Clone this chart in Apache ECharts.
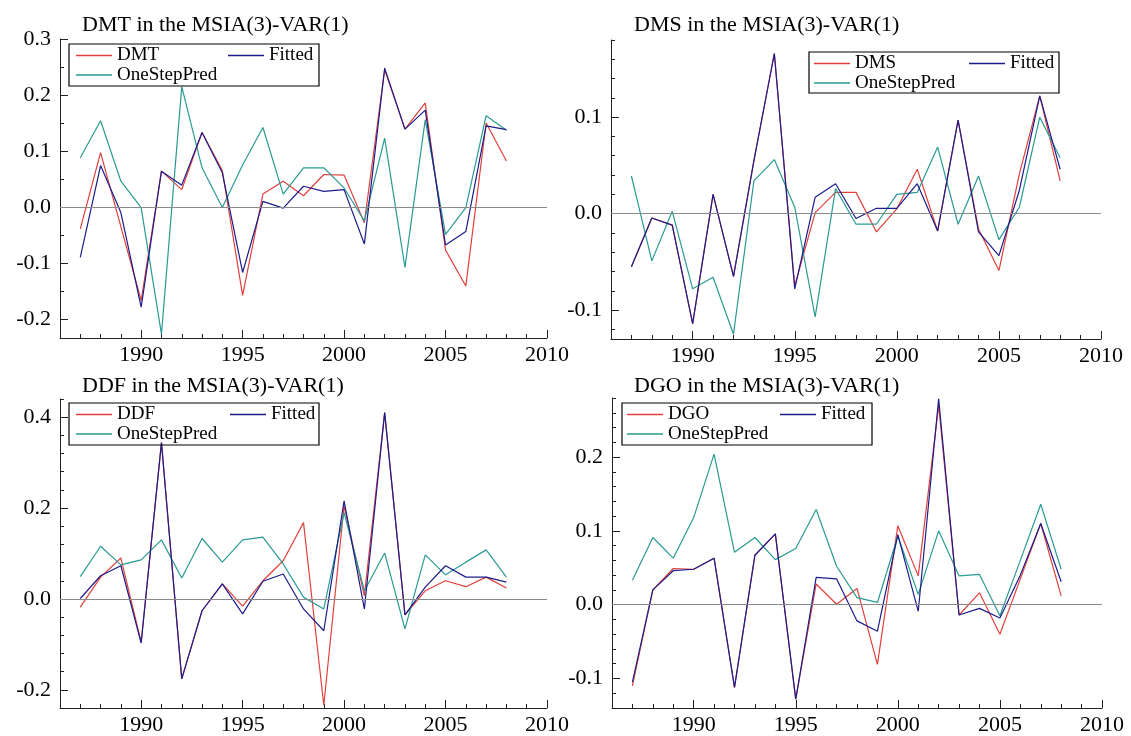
<!DOCTYPE html>
<html><head><meta charset="utf-8">
<script src="https://cdn.jsdelivr.net/npm/echarts@6/dist/echarts.min.js"></script>
<style>html,body{margin:0;padding:0;background:#fff}#c{width:1131px;height:736px}</style>
</head><body><div id="c"></div>
<script>
// ---------- data ----------
const years = [1987,1988,1989,1990,1991,1992,1993,1994,1995,1996,1997,1998,1999,2000,2001,2002,2003,2004,2005,2006,2007,2008];

const dmt     = [-0.039,0.097,-0.035,-0.167,0.064,0.031,0.133,0.065,-0.158,0.023,0.046,0.020,0.058,0.057,-0.028,0.245,0.139,0.186,-0.077,-0.141,0.150,0.082];
const dmtFit  = [-0.090,0.074,-0.010,-0.179,0.064,0.039,0.133,0.061,-0.117,0.010,-0.002,0.037,0.028,0.031,-0.066,0.248,0.139,0.173,-0.068,-0.044,0.145,0.138];
const dmtPred = [0.088,0.154,0.046,-0.001,-0.227,0.215,0.070,-0.001,0.075,0.142,0.023,0.070,0.070,0.034,-0.025,0.123,-0.108,0.156,-0.049,-0.001,0.163,0.137];

const dms     = [-0.055,-0.0045,-0.012,-0.114,0.020,-0.065,0.055,0.166,-0.075,0.001,0.022,0.022,-0.019,0.005,0.046,-0.018,0.097,-0.016,-0.059,0.041,0.122,0.034];
const dmsFit  = [-0.055,-0.0045,-0.012,-0.114,0.020,-0.065,0.055,0.166,-0.078,0.017,0.031,-0.005,0.0055,0.0055,0.031,-0.018,0.097,-0.019,-0.0435,0.024,0.122,0.046];
const dmsPred = [0.039,-0.049,0.0024,-0.078,-0.066,-0.125,0.034,0.056,0.0066,-0.107,0.026,-0.011,-0.011,0.020,0.022,0.069,-0.011,0.039,-0.027,0.0066,0.100,0.058];

const ddf     = [-0.018,0.048,0.090,-0.095,0.344,-0.176,-0.026,0.033,-0.016,0.040,0.084,0.168,-0.234,0.205,0.007,0.410,-0.035,0.018,0.040,0.027,0.048,0.024];
const ddfFit  = [0.001,0.051,0.073,-0.097,0.344,-0.176,-0.026,0.033,-0.033,0.039,0.055,-0.022,-0.070,0.216,-0.022,0.410,-0.035,0.026,0.073,0.048,0.048,0.037];
const ddfPred = [0.049,0.116,0.075,0.086,0.130,0.046,0.133,0.081,0.130,0.136,0.077,0.004,-0.022,0.190,0.018,0.101,-0.066,0.097,0.053,0.081,0.108,0.048];

const dgo     = [-0.110,0.020,0.049,0.048,0.063,-0.112,0.067,0.096,-0.128,0.028,0.0005,0.022,-0.081,0.107,0.039,0.270,-0.014,0.016,-0.040,0.035,0.110,0.012];
const dgoFit  = [-0.105,0.020,0.046,0.048,0.063,-0.112,0.067,0.096,-0.128,0.037,0.035,-0.022,-0.036,0.095,-0.009,0.279,-0.014,-0.005,-0.018,0.040,0.110,0.031];
const dgoPred = [0.033,0.091,0.063,0.118,0.204,0.071,0.091,0.061,0.076,0.129,0.052,0.0095,0.003,0.093,0.014,0.100,0.039,0.041,-0.015,0.060,0.136,0.048];

// tick labels
const xMajorTicks = [1990,1995,2000,2005,2010];
const xMinorTicks = [1987,1988,1989,1991,1992,1993,1994,1996,1997,1998,1999,2001,2002,2003,2004,2006,2007,2008,2009];
const yMajor1 = [-0.2,-0.1,0.0,0.1,0.2,0.3];
const yMinor1 = [-0.15,-0.05,0.05,0.15,0.25];
const yMajor2 = [-0.1,0.0,0.1];
const yMinor2 = [-0.12,-0.08,-0.06,-0.04,-0.02,0.02,0.04,0.06,0.08,0.12,0.14,0.16,0.18];
const yMajor3 = [-0.2,0.0,0.2,0.4];
const yMinor3 = [-0.24,-0.16,-0.12,-0.08,-0.04,0.04,0.08,0.12,0.16,0.24,0.28,0.32,0.36,0.44];
const yMajor4 = [-0.1,0.0,0.1,0.2];
const yMinor4 = [-0.14,-0.12,-0.08,-0.06,-0.04,-0.02,0.02,0.04,0.06,0.08,0.12,0.14,0.16,0.18,0.22,0.24,0.26,0.28];

// ---------- layout / style ----------
const FONT = 'Liberation Serif';
const C_OBS = '#e0403c', C_FIT = '#1c1c8a', C_PRED = '#2a9a92';
const LEG_FS = 19;

const panels = [
  {title:'DMT in the MSIA(3)-VAR(1)', name:'DMT', obs:dmt, fit:dmtFit, pred:dmtPred, yMin:-0.234, yMax:0.3, major:yMajor1, minor:yMinor1,
   grid:{left:60, top:39, width:487, height:299}, tl:[82,14], box:[69,44,319,86], icon:76, fitted:228},
  {title:'DMS in the MSIA(3)-VAR(1)', name:'DMS', obs:dms, fit:dmsFit, pred:dmsPred, yMin:-0.13, yMax:0.18, major:yMajor2, minor:yMinor2,
   grid:{left:611, top:40, width:490, height:299}, tl:[634,14], box:[809,52,1059,93], icon:814, fitted:969},
  {title:'DDF in the MSIA(3)-VAR(1)', name:'DDF', obs:ddf, fit:ddfFit, pred:ddfPred, yMin:-0.24, yMax:0.44, major:yMajor3, minor:yMinor3,
   grid:{left:60, top:399, width:487, height:309}, tl:[82,375], box:[69,403,319,445], icon:76, fitted:230},
  {title:'DGO in the MSIA(3)-VAR(1)', name:'DGO', obs:dgo, fit:dgoFit, pred:dgoPred, yMin:-0.14, yMax:0.28, major:yMajor4, minor:yMinor4,
   grid:{left:612, top:398, width:490, height:310}, tl:[634,375], box:[622,403,872,445], icon:627, fitted:780}
];

const ctx = document.createElement('canvas').getContext('2d');
ctx.font = LEG_FS + 'px "' + FONT + '"';
const tw = s => ctx.measureText(s).width;

const grids = [], xAxes = [], yAxes = [], series = [], legends = [], titles = [];
const axisLineStyle = {color:'#222', width:1};

panels.forEach((p, k) => {
  grids.push(Object.assign({containLabel:false}, p.grid));
  titles.push({text:p.title, left:p.tl[0], top:p.tl[1], padding:0,
    textStyle:{fontFamily:FONT, fontSize:22, fontWeight:'normal', color:'#000'}});
  // main x axis
  xAxes.push({type:'value', gridIndex:k, position:'bottom', min:1986, max:2010,
    axisLine:{show:true, onZero:false, lineStyle:axisLineStyle},
    axisTick:{show:true, inside:true, length:8, customValues:xMajorTicks, lineStyle:axisLineStyle},
    axisLabel:{show:true, customValues:xMajorTicks, margin:6, color:'#000', fontFamily:FONT, fontSize:22, formatter:v=>String(v)},
    splitLine:{show:false}});
  // minor x axis
  xAxes.push({type:'value', gridIndex:k, position:'bottom', min:1986, max:2010,
    axisLine:{show:false, onZero:false},
    axisTick:{show:true, inside:true, length:4, customValues:xMinorTicks, lineStyle:axisLineStyle},
    axisLabel:{show:false}, splitLine:{show:false}});
  yAxes.push({type:'value', gridIndex:k, position:'left', min:p.yMin, max:p.yMax,
    axisLine:{show:true, onZero:false, lineStyle:axisLineStyle},
    axisTick:{show:true, inside:true, length:8, customValues:p.major, lineStyle:axisLineStyle},
    axisLabel:{show:true, customValues:p.major, margin:9, color:'#000', fontFamily:FONT, fontSize:22, formatter:v=>v.toFixed(1)},
    splitLine:{show:false}});
  yAxes.push({type:'value', gridIndex:k, position:'left', min:p.yMin, max:p.yMax,
    axisLine:{show:false, onZero:false},
    axisTick:{show:true, inside:true, length:4, customValues:p.minor, lineStyle:axisLineStyle},
    axisLabel:{show:false}, splitLine:{show:false}});

  const xi = 2*k, yi = 2*k;
  const mk = (name, vals, color, extra) => Object.assign({
    name, type:'line', xAxisIndex:xi, yAxisIndex:yi, symbol:'none', animation:false,
    data: years.map((yr,i)=>[yr, vals[i]]),
    lineStyle:{width:1.2, color}, itemStyle:{color}, emphasis:{disabled:true}
  }, extra||{});
  series.push(mk(p.name, p.obs, C_OBS, {z:2, markLine:{silent:true, symbol:'none', animation:false,
    label:{show:false}, lineStyle:{color:'#8a8a8a', width:1, type:'solid'}, data:[{yAxis:0}]}}));
  series.push(mk('Fitted', p.fit, C_FIT, {z:3}));
  series.push(mk('OneStepPred', p.pred, C_PRED, {z:2}));

  // legend: row 1 (with frame) and row 2
  const [bl, bt, br, bb] = p.box;
  const iw = 36, txOff = 5, ih = LEG_FS;
  const padTop = 2, padLeft = p.icon - bl;
  const gap = p.fitted - (p.icon + iw + txOff + tw(p.name));
  const row1Right = p.fitted + iw + txOff + tw('Fitted');
  const padRight = Math.max(0, br - row1Right);
  const padBottom = bb - (bt + padTop + ih);
  const common = {orient:'horizontal', icon:'rect', itemWidth:iw, itemHeight:1.3,
    textStyle:{fontFamily:FONT, fontSize:LEG_FS, color:'#000'}, selectedMode:false, inactiveColor:'#ccc'};
  legends.push(Object.assign({}, common, {data:[p.name,'Fitted'], left:bl, top:bt, itemGap:gap,
    padding:[padTop, padRight, padBottom, padLeft], borderColor:'#000', borderWidth:1.2, backgroundColor:'transparent'}));
  legends.push(Object.assign({}, common, {data:['OneStepPred'], left:p.icon, top:bt + 31 - ih/2, padding:0, z:5}));
});

const chart = echarts.init(document.getElementById('c'), null, {renderer:'canvas'});
chart.setOption({
  animation:false, backgroundColor:'#fff',
  title:titles, grid:grids, xAxis:xAxes, yAxis:yAxes, legend:legends, series
});
</script></body></html>
